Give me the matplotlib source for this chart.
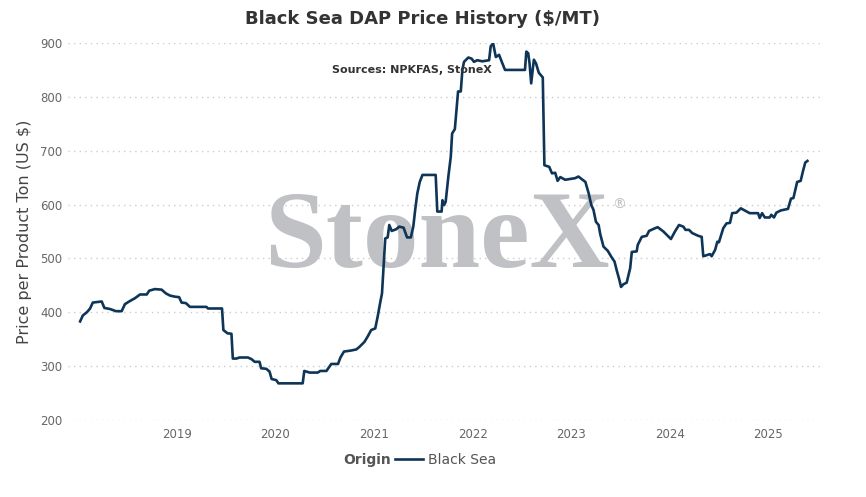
import matplotlib
matplotlib.use("Agg")
import matplotlib.pyplot as plt
from matplotlib.lines import Line2D
import pandas as pd

dates = [
    "2018-01-07", "2018-01-17", "2018-02-01", "2018-02-13", "2018-02-23", "2018-03-28",
    "2018-04-07", "2018-04-28", "2018-05-20", "2018-06-10", "2018-06-22", "2018-07-11",
    "2018-07-29", "2018-08-17", "2018-09-11", "2018-09-20", "2018-10-11", "2018-11-05",
    "2018-11-21", "2018-12-06", "2018-12-24", "2019-01-09", "2019-01-18", "2019-02-03",
    "2019-02-18", "2019-04-20", "2019-04-26", "2019-06-17", "2019-06-22", "2019-07-07",
    "2019-07-22", "2019-07-27", "2019-08-09", "2019-08-21", "2019-09-21", "2019-10-04",
    "2019-10-16", "2019-11-03", "2019-11-09", "2019-11-28", "2019-12-10", "2019-12-18",
    "2020-01-04", "2020-01-12", "2020-04-11", "2020-04-17", "2020-05-07", "2020-06-06",
    "2020-06-15", "2020-07-08", "2020-07-26", "2020-08-20", "2020-08-29", "2020-09-11",
    "2020-10-08", "2020-10-27", "2020-11-08", "2020-11-26", "2020-12-08", "2020-12-21",
    "2021-01-05", "2021-01-14", "2021-01-23", "2021-01-30", "2021-02-04", "2021-02-11",
    "2021-02-20", "2021-02-26", "2021-03-07", "2021-03-23", "2021-04-04", "2021-04-20",
    "2021-05-03", "2021-05-17", "2021-05-26", "2021-06-02", "2021-06-10", "2021-06-19",
    "2021-06-29", "2021-08-17", "2021-08-23", "2021-09-08", "2021-09-11", "2021-09-17",
    "2021-09-23", "2021-10-03", "2021-10-12", "2021-10-17", "2021-10-27", "2021-11-02",
    "2021-11-08", "2021-11-18", "2021-11-24", "2021-11-30", "2021-12-16", "2021-12-28",
    "2022-01-06", "2022-01-18", "2022-02-06", "2022-03-03", "2022-03-09", "2022-03-18",
    "2022-03-28", "2022-04-09", "2022-04-19", "2022-05-01", "2022-07-14", "2022-07-19",
    "2022-07-26", "2022-07-31", "2022-08-06", "2022-08-16", "2022-08-24", "2022-09-03",
    "2022-09-18", "2022-09-24", "2022-10-12", "2022-10-22", "2022-11-03", "2022-11-12",
    "2022-11-22", "2022-12-10", "2023-01-16", "2023-01-28", "2023-02-10", "2023-02-23",
    "2023-03-07", "2023-03-17", "2023-03-25", "2023-04-03", "2023-04-13", "2023-04-19",
    "2023-05-01", "2023-05-17", "2023-05-30", "2023-06-11", "2023-06-19", "2023-06-29",
    "2023-07-05", "2023-07-14", "2023-07-26", "2023-08-08", "2023-08-14", "2023-09-01",
    "2023-09-05", "2023-09-20", "2023-10-08", "2023-10-17", "2023-11-08", "2023-11-18",
    "2023-12-09", "2024-01-06", "2024-01-21", "2024-02-05", "2024-02-21", "2024-02-29",
    "2024-03-13", "2024-03-25", "2024-04-16", "2024-04-29", "2024-05-05", "2024-05-17",
    "2024-05-30", "2024-06-05", "2024-06-18", "2024-06-26", "2024-07-02", "2024-07-18",
    "2024-07-30", "2024-08-12", "2024-08-20", "2024-09-05", "2024-09-21", "2024-10-06",
    "2024-10-24", "2024-11-24", "2024-11-30", "2024-12-09", "2024-12-19", "2025-01-06",
    "2025-01-12", "2025-01-22", "2025-01-31", "2025-02-16", "2025-03-15", "2025-03-26",
    "2025-04-04", "2025-04-18", "2025-05-01", "2025-05-09", "2025-05-18", "2025-05-26",
]
black_sea = [
    383, 394, 400, 407, 418, 420,
    408, 406, 402, 402, 415, 421,
    426, 433, 433, 440, 443, 442,
    435, 431, 429, 428, 418, 417,
    410, 410, 407, 407, 367, 361,
    360, 314, 314, 316, 316, 313,
    308, 308, 296, 295, 290, 276,
    274, 268, 268, 291, 288, 288,
    291, 291, 304, 304, 316, 327,
    329, 331, 336, 345, 355, 367,
    370, 392, 417, 435, 478, 537,
    539, 562, 551, 554, 559, 557,
    539, 539, 559, 590, 621, 642,
    655, 655, 587, 587, 608, 599,
    605, 652, 689, 732, 740, 776,
    810, 810, 850, 865, 873, 871,
    865, 868, 866, 868, 894, 899,
    874, 878, 865, 850, 850, 884,
    881, 862, 825, 869, 862, 845,
    836, 673, 670, 658, 659, 644,
    651, 646, 649, 652, 647, 642,
    621, 599, 590, 568, 562, 545,
    522, 514, 503, 494, 478, 460,
    447, 452, 455, 482, 512, 513,
    525, 540, 542, 551, 556, 558,
    550, 536, 550, 562, 559, 553,
    553, 547, 542, 540, 504, 506,
    508, 504, 516, 531, 530, 556,
    565, 566, 584, 585, 593, 589,
    584, 584, 575, 584, 576, 576,
    581, 576, 585, 589, 592, 611,
    612, 642, 644, 661, 678, 681,
]
years = ["2019", "2020", "2021", "2022", "2023", "2024", "2025"]
y_ticks = [200, 300, 400, 500, 600, 700, 800, 900]

title = "Black Sea DAP Price History ($/MT)"
subtitle = "Sources: NPKFAS, StoneX"
y_label = "Price per Product Ton (US $)"
legend_title = "Origin"
series_name = "Black Sea"

x = pd.to_datetime(dates)
line_color = "#0e3557"

fig = plt.figure(figsize=(8.66, 4.97), dpi=100)
ax = fig.add_axes([0.0785, 0.155, 0.8685, 0.7585])

ax.plot(x, black_sea, color=line_color, lw=1.9, zorder=3, solid_joinstyle="round")

ax.set_ylim(200, 900)
ax.set_yticks(y_ticks)
ax.set_xlim(pd.Timestamp("2017-11-23"), pd.Timestamp("2025-07-12"))
ax.set_xticks([pd.Timestamp(f"{y}-01-01") for y in years])
ax.set_xticklabels(years)

for s in ax.spines.values():
    s.set_visible(False)
ax.tick_params(axis="both", length=0, labelsize=8.5, colors="#666666")
ax.tick_params(axis="y", pad=4)
ax.tick_params(axis="x", pad=6)
ax.grid(axis="y", color="#cccccc", linestyle=(0, (1, 3)), lw=1.0)
ax.set_axisbelow(True)

ax.set_ylabel(y_label, fontsize=11.5, color="#444444", labelpad=6)

# watermark
ax.text(0.491, 0.405, "StoneX", transform=ax.transAxes, ha="center", va="baseline",
        fontsize=80, family="Liberation Serif", fontweight="bold", color="#c0c1c4", zorder=1)
ax.text(0.733, 0.571, "®", transform=ax.transAxes, ha="center", va="center",
        fontsize=10, family="DejaVu Sans", color="#c0c1c4", zorder=1)

fig.text(0.488, 0.962, title, ha="center", va="center", fontsize=13,
         fontweight="bold", color="#333333")
fig.text(0.476, 0.86, subtitle, ha="center", va="center", fontsize=8,
         fontweight="bold", color="#333333", zorder=5)

# legend
fig.text(391 / 866, 0.0744, legend_title, ha="right", va="center", fontsize=10,
         fontweight="bold", color="#555555")
handle = Line2D([], [], color=line_color, lw=1.9)
leg = fig.legend([handle], [series_name], loc="center left", bbox_to_anchor=(395 / 866, 0.0744),
                 frameon=False, fontsize=10, handlelength=2.0, handletextpad=0.4,
                 borderpad=0, borderaxespad=0)
for t in leg.get_texts():
    t.set_color("#555555")

fig.savefig("out.png", dpi=100)
